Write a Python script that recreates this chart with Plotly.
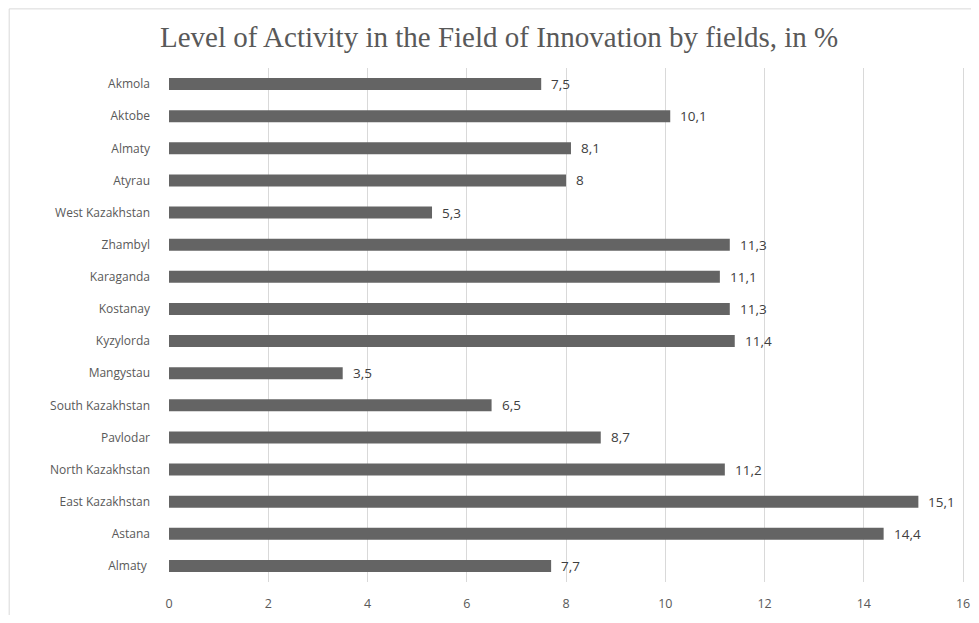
import plotly.graph_objects as go

regions = ['Akmola', 'Aktobe', 'Almaty', 'Atyrau', 'West Kazakhstan', 'Zhambyl',
           'Karaganda', 'Kostanay', 'Kyzylorda', 'Mangystau', 'South Kazakhstan',
           'Pavlodar', 'North Kazakhstan', 'East Kazakhstan', 'Astana', 'Almaty ']
activity = [7.5, 10.1, 8.1, 8, 5.3, 11.3, 11.1, 11.3, 11.4, 3.5, 6.5, 8.7, 11.2, 15.1, 14.4, 7.7]
x_ticks = [0, 2, 4, 6, 8, 10, 12, 14, 16]


def fmt(v):
    # comma decimal, like the original
    return ('%g' % v).replace('.', ',')


fig = go.Figure()
fig.add_trace(go.Bar(
    y=regions, x=activity, orientation='h',
    marker=dict(color='#646464', line=dict(width=0)),
    width=0.37,
))

for r, v in zip(regions, activity):
    fig.add_annotation(x=v, y=r, text=fmt(v), showarrow=False,
                       xanchor='left', xshift=8,
                       font=dict(family='Open Sans', size=13.5, color='#404040'))

fig.update_xaxes(range=[0, 16.1], tickvals=x_ticks, showgrid=True, gridcolor='#d9d9d9',
                 gridwidth=1, zeroline=False, showline=False, ticks='',
                 ticklabelstandoff=12, ticklabeloverflow='allow', automargin=False,
                 tickfont=dict(family='Open Sans', size=12.5, color='#595959'))
fig.update_yaxes(autorange='reversed', showgrid=False, ticks='', showline=False,
                 ticklabelstandoff=18, automargin=False,
                 tickfont=dict(family='Open Sans', size=12, color='#595959'))

fig.add_shape(type='rect', xref='paper', yref='paper', x0=-0.2, x1=1.1, y0=-0.2, y1=1.115,
              line=dict(color='#d9d9d9', width=1), layer='below')

fig.update_layout(
    title=dict(text='Level of Activity in the Field of Innovation by fields, in %',
               xref='container', x=0.51, xanchor='center',
               yref='container', y=0.952, yanchor='middle',
               font=dict(family='Liberation Serif', size=29, color='#595959')),
    width=963, height=607,
    margin=dict(l=161, r=3, t=60, b=33),
    plot_bgcolor='white', paper_bgcolor='white',
    showlegend=False, bargap=0.6,
)

fig.write_html("out.html")
